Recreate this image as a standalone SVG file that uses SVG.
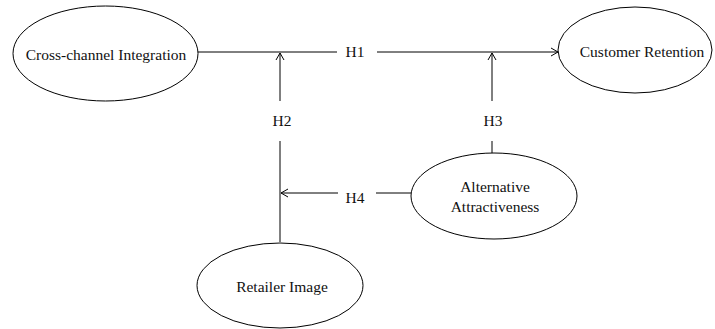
<svg xmlns="http://www.w3.org/2000/svg" width="715" height="329" viewBox="0 0 715 329">
<style>
.n{fill:#fff;stroke:#000;stroke-width:1}
.t{font-family:"Liberation Serif","Times New Roman",serif;font-size:15.5px;fill:#111;text-anchor:middle}
.c{stroke:#000;stroke-width:1;fill:none}
.lb{fill:#fff}
</style>
<defs>
<marker id="a" markerWidth="10" markerHeight="10" refX="8" refY="5" orient="auto" markerUnits="userSpaceOnUse">
<path d="M1,1 L8,5 L1,9" fill="none" stroke="#000" stroke-width="1"/>
</marker>
</defs>
<g id="connectors">
<line class="c" x1="198" y1="52" x2="558" y2="52" marker-end="url(#a)"/>
<line class="c" x1="280" y1="242" x2="280" y2="53" marker-end="url(#a)"/>
<line class="c" x1="492" y1="153" x2="492" y2="53" marker-end="url(#a)"/>
<line class="c" x1="411" y1="193" x2="281" y2="193" marker-end="url(#a)"/>
<rect class="lb" x="337" y="36" width="40" height="34"/>
<text class="t" x="355" y="57">H1</text>
<rect class="lb" x="263" y="101" width="38" height="40"/>
<text class="t" x="282" y="126">H2</text>
<rect class="lb" x="474" y="101" width="38" height="40"/>
<text class="t" x="493" y="126">H3</text>
<rect class="lb" x="338" y="178" width="38" height="38"/>
<text class="t" x="355" y="203">H4</text>
</g>
<g id="cci">
<ellipse class="n" cx="105.5" cy="53.5" rx="92.5" ry="47.5"/>
<text class="t" x="106" y="60">Cross-channel Integration</text>
</g>
<g id="cr">
<ellipse class="n" cx="635" cy="50" rx="77" ry="43"/>
<text class="t" x="642" y="57">Customer Retention</text>
</g>
<g id="aa">
<ellipse class="n" cx="494" cy="196" rx="83" ry="43"/>
<text class="t" x="495" y="192">Alternative</text>
<text class="t" x="495" y="212">Attractiveness</text>
</g>
<g id="ri">
<ellipse class="n" cx="280" cy="285.5" rx="83" ry="42.5"/>
<text class="t" x="282" y="292">Retailer Image</text>
</g>
</svg>
